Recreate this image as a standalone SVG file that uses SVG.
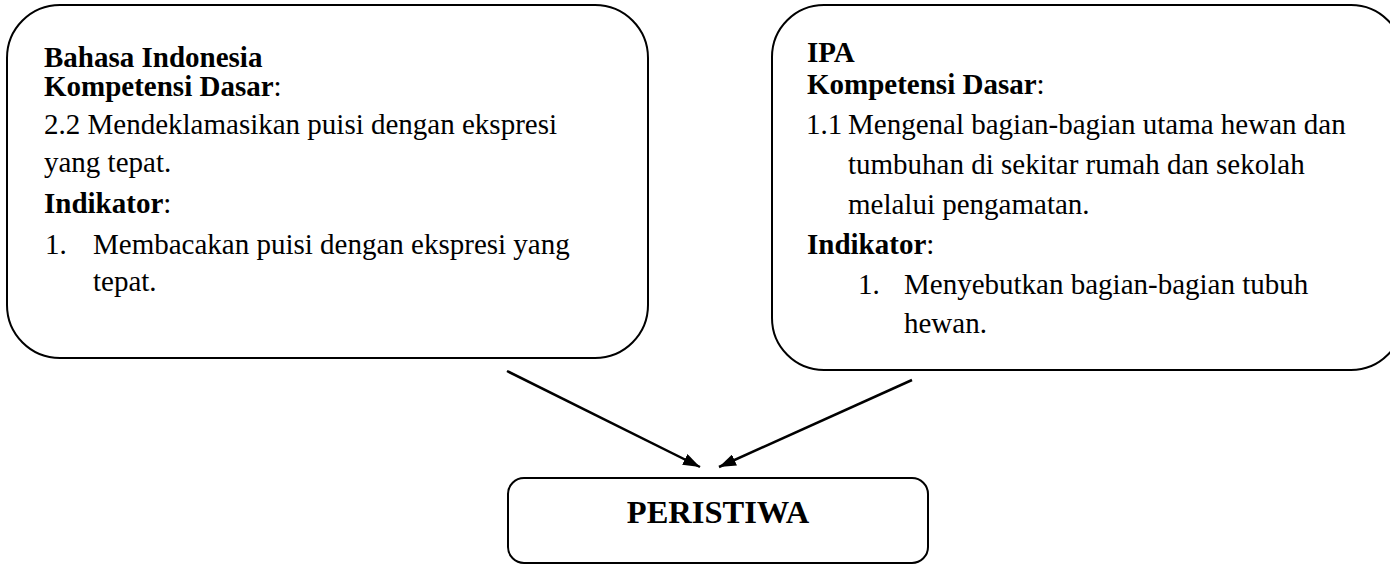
<svg xmlns="http://www.w3.org/2000/svg" width="1390" height="565" viewBox="0 0 1390 565">
<defs>
<marker id="ah" markerWidth="17" markerHeight="12" refX="17" refY="6" orient="auto" markerUnits="userSpaceOnUse" viewBox="0 0 17 12">
<path d="M0,0 L17,6 L0,12 Z" fill="#000"/>
</marker>
<style>
.box{fill:#fff;stroke:#000;stroke-width:2}
.t{font-family:"Liberation Serif","Times New Roman",serif;font-size:29px;fill:#000}
.b{font-weight:bold}
.conn{stroke:#000;stroke-width:2.5;fill:none}
</style>
</defs>
<rect width="1390" height="565" fill="#fff"/>
<g id="bahasa">
<rect class="box" x="7" y="5" width="641" height="353" rx="53" ry="53"/>
<text class="t b" x="44" y="67">Bahasa Indonesia</text>
<text class="t" x="44" y="96"><tspan class="b">Kompetensi Dasar</tspan>:</text>
<text class="t" x="44" y="134">2.2 Mendeklamasikan puisi dengan ekspresi</text>
<text class="t" x="44" y="172">yang tepat.</text>
<text class="t" x="44" y="213"><tspan class="b">Indikator</tspan>:</text>
<text class="t" x="45" y="254">1.</text>
<text class="t" x="93" y="254">Membacakan puisi dengan ekspresi yang</text>
<text class="t" x="93" y="291">tepat.</text>
</g>
<g id="ipa">
<rect class="box" x="772" y="5" width="631" height="365" rx="52" ry="52"/>
<text class="t b" x="807" y="62">IPA</text>
<text class="t" x="807" y="94"><tspan class="b">Kompetensi Dasar</tspan>:</text>
<text class="t" x="806" y="134">1.1</text>
<text class="t" x="848" y="134">Mengenal bagian-bagian utama hewan dan</text>
<text class="t" x="848" y="174">tumbuhan di sekitar rumah dan sekolah</text>
<text class="t" x="848" y="214">melalui pengamatan.</text>
<text class="t" x="807" y="254"><tspan class="b">Indikator</tspan>:</text>
<text class="t" x="858" y="294">1.</text>
<text class="t" x="904" y="294">Menyebutkan bagian-bagian tubuh</text>
<text class="t" x="904" y="333">hewan.</text>
</g>
<g id="peristiwa">
<rect class="box" x="508" y="478" width="420" height="85" rx="16" ry="16"/>
<text class="t b" x="718" y="523" text-anchor="middle" style="font-size:32.5px">PERISTIWA</text>
</g>
<g id="connectors">
<line class="conn" x1="507" y1="371" x2="700" y2="467" marker-end="url(#ah)"/>
<line class="conn" x1="912" y1="380" x2="719" y2="467" marker-end="url(#ah)"/>
</g>
</svg>
